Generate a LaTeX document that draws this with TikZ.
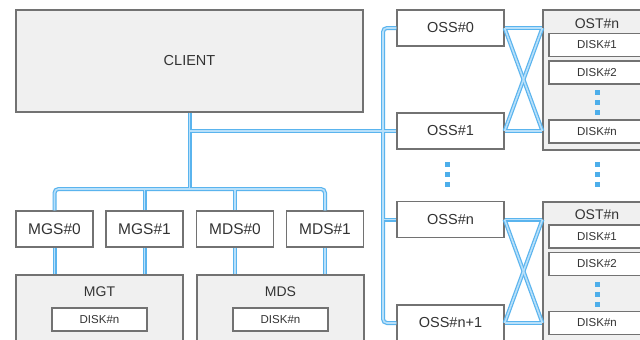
\documentclass[tikz,border=0pt]{standalone}
\usepackage{fontspec}
\setmainfont{Liberation Sans}
\definecolor{bordergray}{HTML}{727272}
\definecolor{panelfill}{HTML}{F0F0F0}
\definecolor{txtgray}{HTML}{333333}
\definecolor{linkblue}{HTML}{5AB4EE}
\definecolor{linklight}{HTML}{B8E0FA}
\definecolor{dotblue}{HTML}{4DAEEA}
\begin{document}
\begin{tikzpicture}[x=1pt,y=-1pt,
  boxstyle/.style={draw=bordergray, line width=1.2pt, fill=white, text=txtgray,
    font=\fontsize{14.5}{16}\selectfont, inner sep=0pt, rectangle},
  panelstyle/.style={boxstyle, fill=panelfill},
  mstyle/.style={boxstyle, font=\fontsize{15.5}{17}\selectfont, minimum width=77pt, minimum height=36pt},
  diskstyle/.style={boxstyle, font=\fontsize{11.5}{13}\selectfont, minimum height=23pt},
  titlestyle/.style={text=txtgray, font=\fontsize{14}{15}\selectfont, inner sep=0pt},
  dotstyle/.style={fill=dotblue, inner sep=0pt, minimum size=5pt, rectangle},
  outerlink/.style={draw=linkblue, line width=4pt, rounded corners=4pt},
  innerlink/.style={draw=linklight, line width=1.6pt, rounded corners=4pt}]
\clip (0,0) rectangle (640,340);
\fill[white] (0,0) rectangle (640,340);

% client
\node[panelstyle, minimum width=347pt, minimum height=102pt] (client) at (189.5,61) {CLIENT};

% MGS / MDS servers
\node[mstyle] (mgs0) at (54.5,229) {MGS\#0};
\node[mstyle] (mgs1) at (144.5,229) {MGS\#1};
\node[mstyle] (mds0) at (235,229) {MDS\#0};
\node[mstyle] (mds1) at (325,229) {MDS\#1};

% MGT / MDS targets
\node[panelstyle, minimum width=167pt, minimum height=80pt] (mgt) at (99.5,315) {};
\node[titlestyle] (mgttitle) at (99.5,292) {MGT};
\node[diskstyle, minimum width=95pt] (mgtdisk) at (99.5,319.5) {DISK\#n};
\node[panelstyle, minimum width=167pt, minimum height=80pt] (mdt) at (280.5,315) {};
\node[titlestyle] (mdttitle) at (280.5,292) {MDS};
\node[diskstyle, minimum width=95pt] (mdtdisk) at (280.5,319.5) {DISK\#n};

% OSS servers
\node[boxstyle, minimum width=107pt, minimum height=36pt] (oss0) at (450.5,28) {OSS\#0};
\node[boxstyle, minimum width=107pt, minimum height=36pt] (oss1) at (450.5,131) {OSS\#1};
\node[boxstyle, minimum width=107pt, minimum height=36pt] (ossn) at (450.5,219.5) {OSS\#n};
\node[boxstyle, minimum width=107pt, minimum height=36pt] (ossn1) at (450.5,323) {OSS\#n+1};

% OST top
\node[panelstyle, minimum width=108pt, minimum height=140pt] (osta) at (597,80) {};
\node[titlestyle] (ostatitle) at (597,24) {OST\#n};
\node[diskstyle, minimum width=96pt] (osta1) at (597,45) {DISK\#1};
\node[diskstyle, minimum width=96pt] (osta2) at (597,72.5) {DISK\#2};
\node[diskstyle, minimum width=96pt] (ostan) at (597,131.5) {DISK\#n};
\node[dotstyle] (da1) at (597,92) {};
\node[dotstyle] (da2) at (597,102) {};
\node[dotstyle] (da3) at (597,112) {};

% OST bottom
\node[panelstyle, minimum width=108pt, minimum height=150pt] (ostb) at (597,277) {};
\node[titlestyle] (ostbtitle) at (597,215) {OST\#n};
\node[diskstyle, minimum width=96pt] (ostb1) at (597,236.5) {DISK\#1};
\node[diskstyle, minimum width=96pt] (ostb2) at (597,264) {DISK\#2};
\node[diskstyle, minimum width=96pt] (ostbn) at (597,323) {DISK\#n};
\node[dotstyle] (db1) at (597,284) {};
\node[dotstyle] (db2) at (597,294) {};
\node[dotstyle] (db3) at (597,304) {};

% ellipsis dots between groups
\node[dotstyle] (ds1) at (447,164) {};
\node[dotstyle] (ds2) at (447,174) {};
\node[dotstyle] (ds3) at (447,184) {};
\node[dotstyle] (dt1) at (597,164) {};
\node[dotstyle] (dt2) at (597,174) {};
\node[dotstyle] (dt3) at (597,184) {};

\coordinate (mbus) at (0,189);
\coordinate (obus) at (383,0);

\newcommand\linkpaths[1]{%
  \draw[#1] (mgs0.north) -- (mgs0.north |- mbus) -- (mds1.north |- mbus) -- (mds1.north);
  \draw[#1] (client.south) -- (client.south |- mbus);
  \draw[#1] (mgs1.north) -- (mgs1.north |- mbus);
  \draw[#1] (mds0.north) -- (mds0.north |- mbus);
  \draw[#1] (mgs0.south) -- (mgs0.south |- mgt.north);
  \draw[#1] (mgs1.south) -- (mgs1.south |- mgt.north);
  \draw[#1] (mds0.south) -- (mds0.south |- mdt.north);
  \draw[#1] (mds1.south) -- (mds1.south |- mdt.north);
  \draw[#1] (client.south |- oss1.west) -- (oss1.west);
  \draw[#1] (oss0.west) -- (oss0.west -| obus) -- (ossn1.west -| obus) -- (ossn1.west);
  \draw[#1] (ossn.west -| obus) -- (ossn.west);
  \draw[#1] (oss0.east) -- (osta.west |- oss0.east);
  \draw[#1] (oss1.east) -- (osta.west |- oss1.east);
  \draw[#1] (oss0.east) -- (osta.west |- oss1.east);
  \draw[#1] (oss1.east) -- (osta.west |- oss0.east);
  \draw[#1] (ossn.east) -- (ostb.west |- ossn.east);
  \draw[#1] (ossn1.east) -- (ostb.west |- ossn1.east);
  \draw[#1] (ossn.east) -- (ostb.west |- ossn1.east);
  \draw[#1] (ossn1.east) -- (ostb.west |- ossn.east);
}
\linkpaths{outerlink}
\linkpaths{innerlink}
\end{tikzpicture}
\end{document}
